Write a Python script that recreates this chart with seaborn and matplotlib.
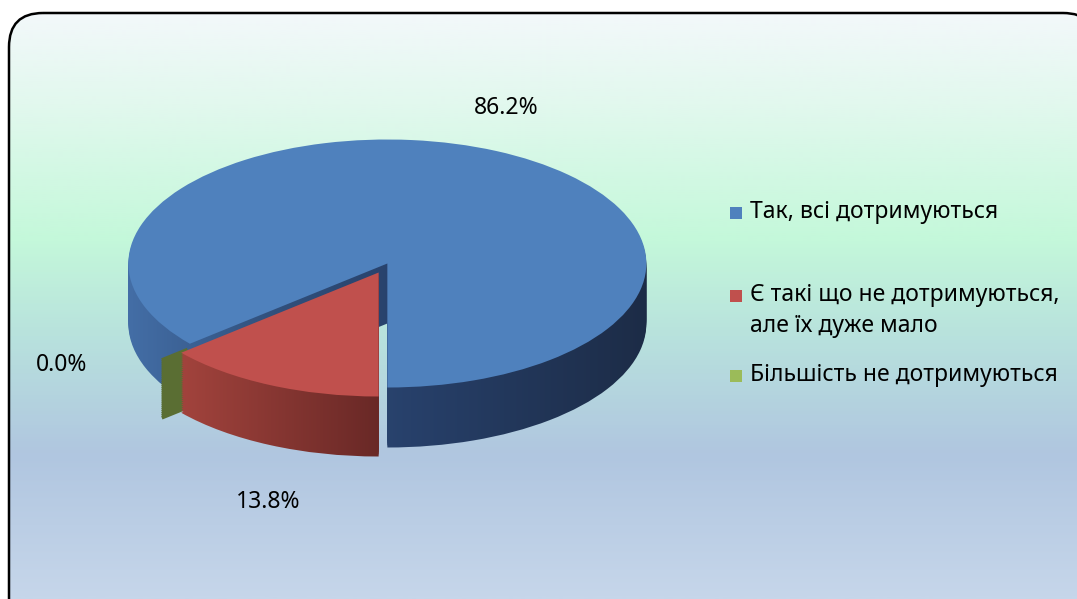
import numpy as np
import matplotlib
matplotlib.use("Agg")
import matplotlib.pyplot as plt
import seaborn as sns
from matplotlib.colors import LinearSegmentedColormap
from matplotlib.patches import FancyBboxPatch, Rectangle

# data
labels = ['Так, всі дотримуються',
          'Є такі що не дотримуються,\nале їх дуже мало',
          'Більшість не дотримуються']
values = [86.2, 13.8, 0.0]
pct_labels = ['86.2%', '13.8%', '0.0%']

top_colors = ['#4f81bd', '#c0504d', '#9bbb59']
side_cmaps = [
    LinearSegmentedColormap.from_list('blue_side', [(0, '#4672ac'), (0.3, '#31507c'),
                                                    (0.55, '#27406a'), (1, '#1c2b45')]),
    LinearSegmentedColormap.from_list('red_side', [(0, '#a8463f'), (1, '#682826')]),
]
green_side = '#5a6e33'

sns.set_theme(style='white')
plt.rcParams['font.family'] = ['Noto Sans', 'DejaVu Sans']

W, H = 1077, 599
fig = plt.figure(figsize=(W / 100, H / 100), dpi=100)

# background with rounded border
bg = fig.add_axes([0, 0, 1, 1])
bg.set_axis_off()
bg.set_xlim(0, W)
bg.set_ylim(H, 0)
cmap = LinearSegmentedColormap.from_list('bg', [
    (0.0, '#f5f8fc'), (0.17, '#e2f8ee'), (0.4, '#c4f8da'),
    (0.56, '#b8e2dd'), (0.76, '#b0c6e0'), (1.0, '#c6d6ea')])
grad = np.linspace(0, 1, 300).reshape(-1, 1)
im = bg.imshow(grad, cmap=cmap, extent=(0, W, H, 0), aspect='auto', zorder=0)
box = FancyBboxPatch((9, 13), 1088, 640, boxstyle='round,pad=0,rounding_size=34',
                     fc='none', ec='black', lw=1.8, zorder=2)
bg.add_patch(box)
im.set_clip_path(box)

# pie axes, units: 1 = radius; ellipse squashed by axis limits
cx, cy, rx, ry = 383, 268, 259, 124
ax = fig.add_axes([0, 0, 1, 1])
ax.set_axis_off()
ax.set_xlim(-cx / rx, (W - cx) / rx)
ax.set_ylim(-(H - cy) / ry, cy / ry)
depth = 60 / ry
explode = [0.04, 0.04, 0.0]
start = 360 * values[0] / 100 - 90  # blue/red border points straight down

hgrad = np.linspace(0, 1, 256).reshape(1, -1)
ext = [(-1.06, 1.06), (-0.86, 0.0)]  # x-range each side gradient spans

n_layers = 30
for k in np.linspace(depth, 0, n_layers)[:-1]:
    wedges, _ = ax.pie(values, center=(0, -k), explode=explode, startangle=start,
                       counterclock=False, colors=['none'] * 3,
                       wedgeprops=dict(lw=0))
    for w, cm, (x0, x1) in zip(wedges[:2], side_cmaps, ext):
        img = ax.imshow(hgrad, cmap=cm, extent=(x0, x1, -k - 1.2, -k + 1.2),
                        aspect='auto', zorder=1, interpolation='bilinear')
        img.set_clip_path(w)
    gw, _ = ax.pie(values, center=(0, -k), explode=[0, 0, 0.12], startangle=start,
                   counterclock=False, colors=['none'] * 3,
                   wedgeprops=dict(width=0.13, lw=0))
    gw[2].set_edgecolor(green_side)
    gw[2].set_linewidth(2.5)

ax.pie(values, center=(0, 0), explode=explode, startangle=start,
       counterclock=False, colors=top_colors, radius=1,
       wedgeprops=dict(lw=0))

ax.set_aspect('auto')
ax.set_xlim(-cx / rx, (W - cx) / rx)
ax.set_ylim(-(H - cy) / ry, cy / ry)

# percentage labels (pixel positions)
label_pos = [(506, 108), (268, 502), (62, 365)]
for txt, (px, py) in zip(pct_labels, label_pos):
    fig.text(px / W, 1 - py / H, txt, ha='center', va='center', fontsize=16.5, color='black')

# legend
leg_y = [213, 296, 376]
for lab, c, py in zip(labels, top_colors, leg_y):
    fig.patches.append(Rectangle((730 / W, 1 - (py + 6) / H), 12 / W, 12 / H,
                                 transform=fig.transFigure, fc=c, ec='none'))
    fig.text(750 / W, 1 - (py - 13) / H, lab, ha='left', va='top', fontsize=16.5,
             color='black', linespacing=1.4)

fig.savefig('out.png', dpi=100)
